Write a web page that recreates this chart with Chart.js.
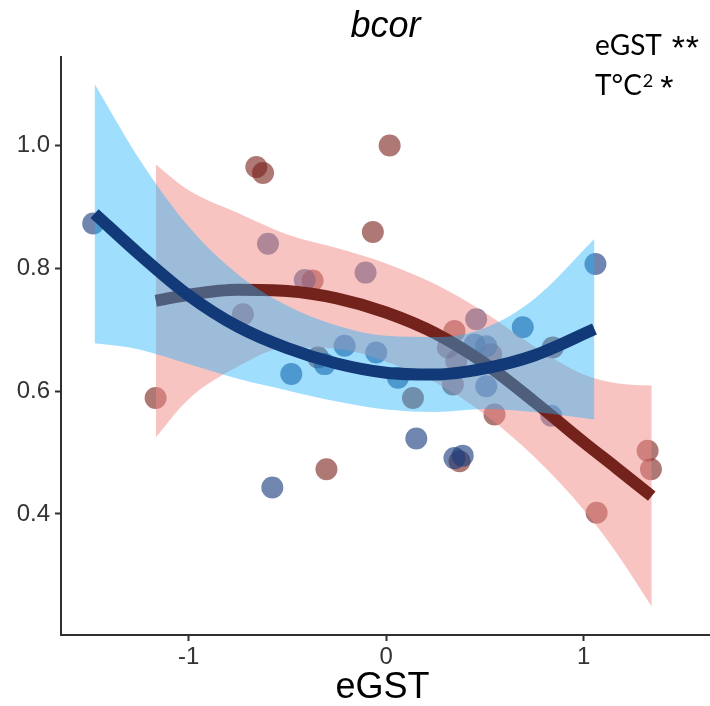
<!DOCTYPE html>
<html><head><meta charset="utf-8">
<script src="https://cdn.jsdelivr.net/npm/chart.js@4/dist/chart.umd.min.js"></script>
<style>html,body{margin:0;padding:0;background:#fff;}canvas{display:block;}</style>
</head><body>
<canvas id="c" width="710" height="706"></canvas>
<script>
// ---- text ----
const chartTitle = 'bcor';
const xAxisTitle = 'eGST';
const annotLine1 = 'eGST';
const annotLine1Stars = ['*', '*'];
const annotLine2Base = 'T°C';
const annotLine2Sup = '2';
const annotLine2Stars = ['*'];

// ---- ticks ----
const xTicks = [-1, 0, 1];
const yTicks = [0.4, 0.6, 0.8, 1.0];

// ---- observations (eGST, bcor) ----
const redPointsX = [-1.167, -0.657, -0.623, -0.372, -0.067, 0.018, -0.302, 0.372, 0.136, 0.346, 0.549, 1.324, 1.341, 1.066, -0.725, 0.313, 0.355, 0.532, 0.338, 0.844, -0.345];
const redPointsY = [0.589, 0.965, 0.955, 0.780, 0.859, 1.000, 0.473, 0.486, 0.589, 0.698, 0.562, 0.503, 0.473, 0.402, 0.725, 0.671, 0.649, 0.660, 0.611, 0.671, 0.655];
const bluePointsX = [-1.483, -0.598, -0.412, -0.104, -0.480, -0.576, 0.153, 0.346, 0.388, 0.456, 0.692, 0.836, 1.060, -0.210, -0.311, -0.050, 0.060, 0.448, 0.507, 0.507];
const bluePointsY = [0.873, 0.840, 0.781, 0.793, 0.628, 0.443, 0.523, 0.491, 0.495, 0.717, 0.704, 0.560, 0.807, 0.674, 0.644, 0.663, 0.622, 0.676, 0.673, 0.608];

// ---- fitted curves with confidence bands ----
const redFitX     = [-1.166, -1.0, -0.75, -0.5, -0.25, 0, 0.25, 0.5, 0.75, 1.0, 1.166, 1.345];
const redFitY     = [0.747, 0.757, 0.765, 0.763, 0.751, 0.728, 0.694, 0.645, 0.583, 0.517, 0.475, 0.429];
const redFitUpper = [0.969, 0.927, 0.890, 0.855, 0.833, 0.808, 0.774, 0.728, 0.673, 0.627, 0.613, 0.609];
const redFitLower = [0.525, 0.587, 0.640, 0.671, 0.669, 0.648, 0.614, 0.562, 0.493, 0.407, 0.337, 0.249];

const blueFitX     = [-1.476, -1.25, -1.0, -0.75, -0.5, -0.25, 0, 0.25, 0.5, 0.75, 1.055];
const blueFitY     = [0.889, 0.823, 0.756, 0.705, 0.670, 0.645, 0.630, 0.627, 0.637, 0.658, 0.701];
const blueFitUpper = [1.100, 0.978, 0.868, 0.790, 0.739, 0.707, 0.690, 0.688, 0.703, 0.750, 0.848];
const blueFitLower = [0.678, 0.668, 0.644, 0.620, 0.601, 0.583, 0.570, 0.566, 0.571, 0.566, 0.554];

const zip = (xs, ys) => xs.map((x, i) => ({x: x, y: ys[i]}));
const NONE = 'rgba(0,0,0,0)';
const axisColor = '#2f2f2f';

const bandBase = {borderColor: NONE, borderWidth: 0, pointRadius: 0, cubicInterpolationMode: 'monotone'};
const fitBase = {pointRadius: 0, fill: false, borderWidth: 12, borderCapStyle: 'butt', cubicInterpolationMode: 'monotone'};

const textPlugin = {
  id: 'texts',
  afterDraw(chart) {
    const c = chart.ctx, a = chart.chartArea;
    c.save();
    c.fillStyle = '#000';
    c.textBaseline = 'alphabetic';
    c.textAlign = 'center';
    c.font = 'italic 36px "Liberation Sans"';
    c.fillText(chartTitle, (a.left + a.right) / 2, 37);
    c.font = '36px "Liberation Sans"';
    c.fillText(xAxisTitle, (a.left + a.right) / 2 - 3, 698);
    c.textAlign = 'left';
    // line 1
    c.font = '28px Lato';
    c.fillText(annotLine1, 595, 55);
    let x = 595 + c.measureText(annotLine1).width + 10;
    c.font = '34px "Liberation Sans"';
    annotLine1Stars.forEach(s => { c.fillText(s, x, 59); x += 14; });
    // line 2
    c.font = '28px Lato';
    c.fillText(annotLine2Base, 595, 95);
    x = 595 + c.measureText(annotLine2Base).width + 1;
    c.font = '18px Lato';
    c.fillText(annotLine2Sup, x, 87);
    x += c.measureText(annotLine2Sup).width + 7;
    c.font = '34px "Liberation Sans"';
    annotLine2Stars.forEach(s => { c.fillText(s, x, 99); x += 14; });
    c.restore();
  }
};

new Chart(document.getElementById('c'), {
  type: 'line',
  data: {
    datasets: [
      {label: 'red points', data: zip(redPointsX, redPointsY), showLine: false, pointRadius: 11, pointBorderWidth: 0,
       pointBackgroundColor: 'rgba(120,30,25,0.6)', pointBorderColor: NONE, order: 20},
      {label: 'blue points', data: zip(bluePointsX, bluePointsY), showLine: false, pointRadius: 11, pointBorderWidth: 0,
       pointBackgroundColor: 'rgba(25,60,125,0.62)', pointBorderColor: NONE, order: 19},
      Object.assign({label: 'red lower', data: zip(redFitX, redFitLower), fill: false, order: 18}, bandBase),
      Object.assign({label: 'red upper', data: zip(redFitX, redFitUpper), fill: '-1', backgroundColor: 'rgba(241,137,133,0.5)', order: 17}, bandBase),
      Object.assign({label: 'red fit', data: zip(redFitX, redFitY), borderColor: '#74231c', order: 16}, fitBase),
      Object.assign({label: 'blue lower', data: zip(blueFitX, blueFitLower), fill: false, order: 15}, bandBase),
      Object.assign({label: 'blue upper', data: zip(blueFitX, blueFitUpper), fill: '-1', backgroundColor: 'rgba(29,176,253,0.42)', order: 14}, bandBase),
      Object.assign({label: 'blue fit', data: zip(blueFitX, blueFitY), borderColor: '#123a78', order: 13}, fitBase)
    ]
  },
  options: {
    responsive: false,
    animation: false,
    devicePixelRatio: 1,
    events: [],
    layout: {autoPadding: false, padding: {top: 57, left: 0, right: 0, bottom: 0}},
    plugins: {legend: {display: false}, tooltip: {enabled: false}, title: {display: false}, filler: {drawTime: 'beforeDatasetDraw'}},
    scales: {
      x: {
        type: 'linear', min: -1.646, max: 1.64,
        afterBuildTicks: s => { s.ticks = xTicks.map(v => ({value: v})); },
        afterFit: s => { s.height = 71; },
        grid: {drawOnChartArea: false, drawTicks: true, tickLength: 6, tickColor: axisColor, tickWidth: 2},
        border: {display: true, color: axisColor, width: 2},
        ticks: {color: '#333', font: {family: 'Liberation Sans', size: 24}, padding: 2, maxRotation: 0, callback: v => String(v)}
      },
      y: {
        type: 'linear', min: 0.203, max: 1.144,
        afterBuildTicks: s => { s.ticks = yTicks.map(v => ({value: v})); },
        afterFit: s => { s.width = 61; },
        grid: {drawOnChartArea: false, drawTicks: true, tickLength: 6, tickColor: axisColor, tickWidth: 2},
        border: {display: true, color: axisColor, width: 2},
        ticks: {color: '#333', font: {family: 'Liberation Sans', size: 24}, padding: 5, callback: v => Number(v).toFixed(1)}
      }
    }
  },
  plugins: [textPlugin]
});
</script>
</body></html>
